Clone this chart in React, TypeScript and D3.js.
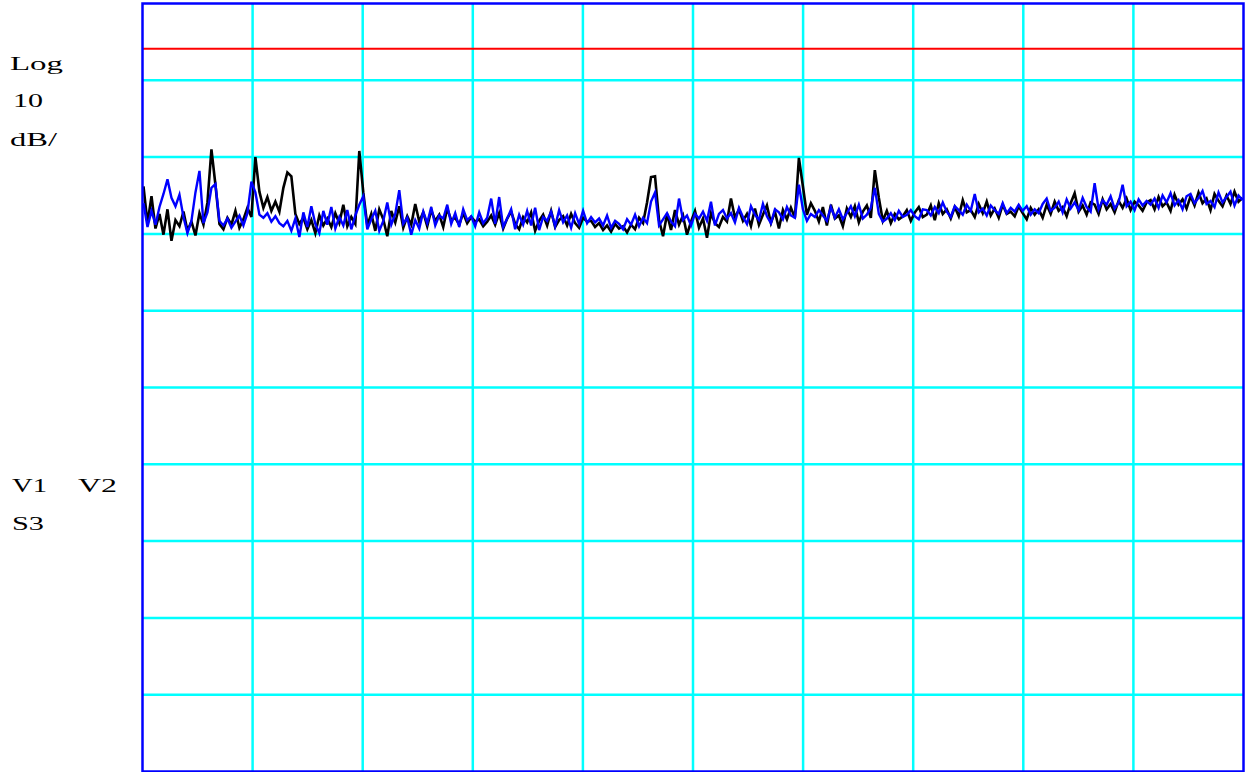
import * as d3 from 'd3'

// Trace levels in dB (10 dB/div, reference at the top graticule line)
const BLACK: number[] = [
  -23.8, -28.6, -25.1, -29.3, -27.4, -30.1, -26.8, -30.9, -28.2, -29.0, -27.1, -29.6, -28.4, -30.2, -27.3, -28.8, -25.9, -19.0, -23.6, -28.7, -29.4, -27.9, -28.8, -27.0, -29.2, -28.1, -26.6, -27.8,
  -20.0, -24.5, -26.6, -25.2, -27.0, -25.8, -27.1, -24.0, -22.0, -22.5, -27.4, -28.7, -27.9, -29.4, -28.2, -29.9, -27.6, -28.9, -28.0, -29.1, -27.3, -28.6, -26.2, -29.0, -27.8, -28.7, -19.2, -24.6,
  -28.9, -27.4, -29.6, -26.8, -28.1, -30.3, -27.0, -28.5, -26.4, -29.2, -27.7, -28.8, -26.1, -28.4, -27.2, -29.0, -26.9, -28.3, -27.5, -29.1, -26.7, -28.2, -27.9, -28.8, -27.3, -28.6, -27.8, -28.4,
  -28.1, -29.0, -28.4, -27.6, -28.8, -27.3, -29.3, -28.0, -27.1, -28.7, -29.4, -27.8, -28.5, -27.2, -29.6, -28.3, -27.5, -28.9, -27.0, -29.1, -28.2, -27.7, -28.9, -27.4, -28.6, -29.2, -27.9, -28.4,
  -28.3, -29.1, -28.6, -29.5, -28.9, -29.7, -28.7, -29.3, -29.0, -29.8, -28.8, -29.4, -27.9, -28.6, -25.9, -22.6, -22.5, -28.2, -30.3, -27.4, -29.5, -26.9, -28.8, -27.6, -30.1, -28.4, -27.0, -29.2,
  -28.0, -30.5, -27.3, -28.6, -29.1, -27.8, -28.4, -25.4, -27.9, -26.8, -28.3, -27.4, -29.0, -26.7, -28.8, -27.5, -26.3, -28.6, -27.1, -29.3, -26.9, -28.1, -26.6, -27.9, -20.1, -23.8, -27.5, -26.0,
  -27.0, -28.4, -26.5, -28.9, -26.2, -28.0, -27.6, -29.0, -26.7, -27.8, -26.4, -28.5, -27.1, -26.3, -27.9, -21.7, -25.3, -28.3, -27.0, -28.6, -27.4, -28.1, -27.7, -26.9, -28.3, -27.2, -26.5, -27.8,
  -27.5, -26.3, -28.2, -26.0, -27.4, -26.8, -28.0, -26.5, -27.7, -25.6, -27.2, -26.9, -27.8, -26.1, -27.3, -25.8, -27.6, -26.7, -27.9, -26.2, -27.4, -27.1, -27.7, -26.4, -27.3, -28.1, -26.6, -27.5,
  -26.8, -27.9, -26.2, -27.4, -25.8, -27.0, -26.5, -27.7, -26.0, -24.7, -27.1, -26.3, -27.5, -25.9, -26.2, -27.4, -25.5, -26.8, -26.1, -27.2, -25.7, -26.6, -25.4, -26.9, -25.8, -26.3, -27.0, -25.9,
  -25.6, -26.8, -25.2, -26.4, -25.9, -27.0, -24.9, -26.2, -25.5, -26.7, -25.1, -26.3, -24.6, -26.0, -25.4, -26.9, -24.8, -25.7, -26.4, -25.0, -26.1, -24.5, -25.8, -25.3,
]

const BLUE: number[] = [
  -26.0, -29.1, -27.0, -28.8, -26.5, -24.8, -22.9, -25.3, -26.4, -24.9, -27.8, -29.9, -28.3, -24.6, -21.8, -28.6, -27.2, -24.0, -23.5, -28.3, -28.9, -28.0, -29.2, -28.4, -27.6, -28.9, -27.3, -23.2,
  -24.6, -27.5, -27.9, -27.3, -28.4, -27.7, -28.6, -29.0, -28.3, -29.6, -28.0, -30.4, -27.2, -29.1, -26.4, -28.7, -29.9, -27.0, -28.8, -26.5, -29.3, -27.8, -28.9, -26.9, -29.4, -27.6, -26.2, -25.1,
  -29.4, -28.1, -27.0, -29.6, -28.3, -25.9, -28.8, -27.4, -24.3, -28.7, -27.9, -30.1, -28.2, -29.3, -27.1, -28.6, -26.5, -28.9, -27.6, -28.0, -26.2, -28.7, -27.3, -29.1, -26.8, -28.2, -27.7, -29.0,
  -27.2, -28.6, -27.9, -25.4, -28.7, -25.2, -29.1, -28.0, -26.8, -29.4, -27.5, -28.8, -27.0, -28.9, -26.6, -29.5, -27.8, -28.3, -27.1, -29.0, -26.9, -28.5, -27.6, -29.2, -27.3, -28.7, -27.0, -28.6,
  -27.8, -28.5, -28.0, -28.9, -27.6, -29.2, -28.3, -28.7, -29.4, -28.1, -28.8, -27.5, -29.0, -27.9, -28.6, -25.8, -24.6, -28.9, -28.1, -27.3, -28.4, -29.0, -25.4, -28.2, -27.6, -28.9, -27.4, -28.0,
  -27.1, -28.3, -25.8, -28.9, -27.4, -26.9, -28.0, -27.3, -28.5, -26.6, -27.8, -28.7, -26.4, -27.5, -28.2, -26.1, -27.7, -28.6, -26.8, -27.2, -28.1, -26.5, -27.6, -27.9, -23.6, -26.8, -28.3, -27.4,
  -27.8, -26.9, -27.6, -28.3, -26.5, -27.9, -26.8, -28.1, -27.3, -26.4, -27.7, -26.2, -28.0, -27.5, -26.6, -24.0, -27.4, -28.4, -28.0, -27.3, -28.2, -27.0, -27.8, -27.5, -26.9, -27.7, -28.1, -26.8,
  -26.9, -27.6, -26.5, -27.3, -25.9, -27.1, -27.8, -26.4, -26.9, -27.5, -26.2, -27.0, -24.8, -27.2, -26.7, -27.6, -26.3, -26.9, -27.4, -26.0, -27.3, -26.6, -27.1, -26.2, -27.0, -26.4, -27.5, -26.8,
  -27.3, -26.1, -25.4, -27.0, -26.6, -25.8, -27.2, -25.5, -26.7, -25.9, -26.9, -25.3, -26.5, -27.1, -23.4, -26.8, -25.6, -26.2, -25.1, -26.7, -25.9, -23.6, -26.4, -25.8, -26.9, -25.5, -26.3, -25.7,
  -26.2, -25.4, -26.6, -25.0, -25.9, -24.7, -26.3, -25.6, -26.8, -25.1, -24.8, -26.0, -25.3, -24.4, -26.1, -25.7, -26.5, -24.6, -25.9, -25.2, -24.5, -26.3, -25.0, -25.6,
]

const LIMIT_DB = -5.9
const X_DIVS = d3.range(0, 11)
const Y_DIVS = d3.range(0, 11)

const LEFT_LABELS = [
  { text: 'Log', x: 10, y: 70, len: 53 },
  { text: '10', x: 13, y: 107, len: 30 },
  { text: 'dB/', x: 10, y: 146, len: 47 },
  { text: 'V1', x: 12, y: 492, len: 35 },
  { text: 'V2', x: 78, y: 492, len: 39 },
  { text: 'S3', x: 12, y: 530, len: 32 },
]

const W = 1245
const H = 772
const X0 = 142.5
const X1 = 1243.5
const Y0 = 3.5
const Y1 = 771.5

export default function App() {
  const gx = d3.scaleLinear().domain([0, 10]).range([X0, X1])
  const y = d3.scaleLinear().domain([0, -100]).range([Y0, Y1])

  const trace = (vals: number[]) => {
    const x = d3.scaleLinear().domain([0, vals.length - 1]).range([X0 + 1, X1 - 1])
    return d3
      .line<number>()
      .x((_, i) => x(i))
      .y((d) => y(d))(vals) ?? ''
  }

  return (
    <svg
      width={W}
      height={H}
      viewBox={`0 0 ${W} ${H}`}
      style={{ position: 'absolute', left: 0, top: 0, background: '#fff' }}
    >
      {X_DIVS.slice(1, -1).map((d) => (
        <line key={'v' + d} x1={gx(d)} x2={gx(d)} y1={Y0} y2={Y1} stroke="#00ffff" strokeWidth={2.5} />
      ))}
      {Y_DIVS.slice(1, -1).map((d) => (
        <line key={'h' + d} x1={X0} x2={X1} y1={y(-d * 10)} y2={y(-d * 10)} stroke="#00ffff" strokeWidth={2.5} />
      ))}

      <line x1={X0} x2={X1} y1={y(LIMIT_DB)} y2={y(LIMIT_DB)} stroke="#ff0000" strokeWidth={2} />

      <path d={trace(BLACK)} fill="none" stroke="#000" strokeWidth={2.6} strokeLinejoin="miter" />
      <path d={trace(BLUE)} fill="none" stroke="#0000ff" strokeWidth={2.4} strokeLinejoin="miter" />

      <rect x={X0} y={Y0} width={X1 - X0} height={Y1 - Y0} fill="none" stroke="#0000ff" strokeWidth={2.5} />

      {LEFT_LABELS.map((l) => (
        <text
          key={l.text}
          x={l.x}
          y={l.y}
          fontFamily="'Liberation Serif', 'Times New Roman', serif"
          fontSize={19}
          textLength={l.len}
          lengthAdjust="spacingAndGlyphs"
          fill="#000"
        >
          {l.text}
        </text>
      ))}
    </svg>
  )
}
